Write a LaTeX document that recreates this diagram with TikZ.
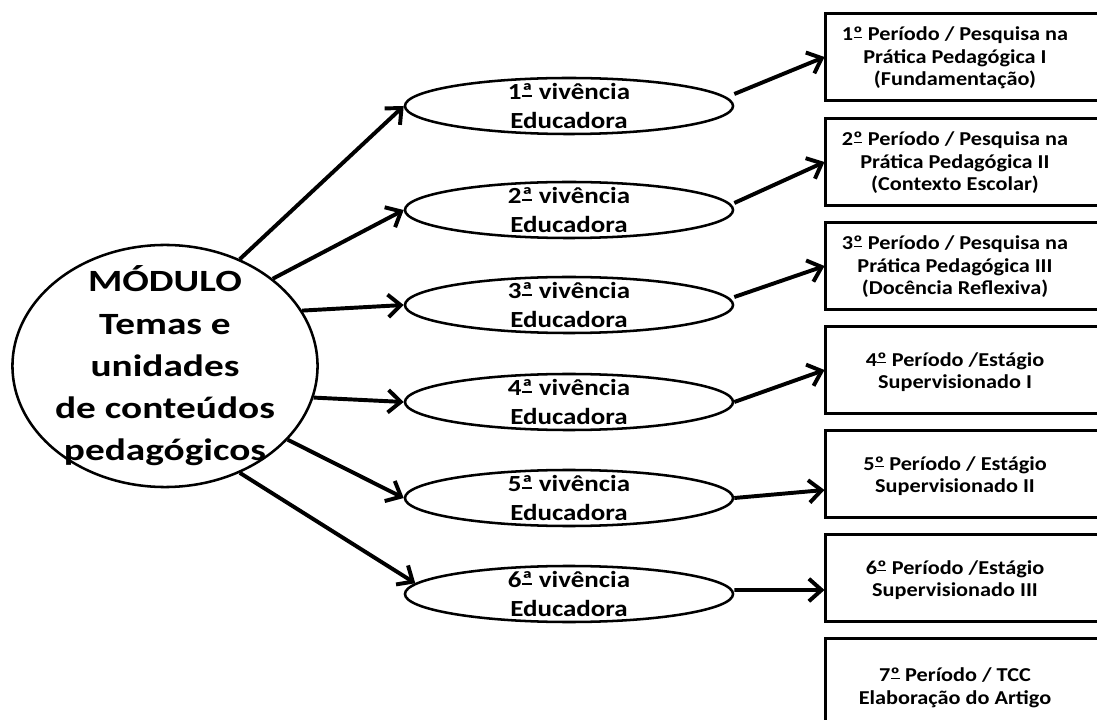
\documentclass[tikz,border=0pt]{standalone}
\usepackage{fontspec}
\setmainfont{Carlito}
\newfontfamily\modfont[FakeStretch=1.27]{Carlito}
\newfontfamily\vivfont[FakeStretch=1.17]{Carlito}
\newfontfamily\perfont[FakeStretch=1.13]{Carlito}
\newcommand{\ordu}[1]{\ooalign{#1\cr\hidewidth\rule[0.3ex]{0.45em}{0.07em}\hidewidth\cr}}
\usetikzlibrary{shapes.geometric,arrows.meta}

\begin{document}
\begin{tikzpicture}[x=0.025cm,y=-0.025cm,
    modulo/.style={ellipse,draw,line width=1.8pt,minimum width=7.625cm,minimum height=6.05cm,inner sep=0pt},
    modulotexto/.style={align=center,inner sep=0pt,font=\modfont\bfseries\fontsize{22}{30}\selectfont},
    vivencia/.style={ellipse,draw,line width=1.8pt,minimum width=8.2cm,minimum height=1.4cm,inner sep=0pt},
    vivenciatexto/.style={align=center,inner sep=0pt,font=\vivfont\bfseries\fontsize{16.4}{20}\selectfont},
    periodo/.style={rectangle,draw,line width=2.1pt,minimum width=7cm,minimum height=2.175cm},
    periodotexto/.style={align=center,inner sep=0pt,font=\perfont\bfseries\fontsize{14}{16}\selectfont},
    seta/.style={line width=2.8pt,-{Straight Barb[length=9pt,width=16pt]}}]
  \fill[white] (0,0) rectangle (1097,720);
  \clip (0,0) rectangle (1097,720);
  \useasboundingbox (0,0) rectangle (1097,720);

  \node[modulo] (mod) at (165,366) {};
  \node[modulotexto] (modtxt) at (mod.center) {MÓDULO\\Temas e\\unidades\\de conteúdos\\pedagógicos};

  \node[vivencia] (v1) at (569,106) {};
  \node[vivencia] (v2) at (569,210) {};
  \node[vivencia] (v3) at (569,305) {};
  \node[vivencia] (v4) at (569,402) {};
  \node[vivencia] (v5) at (569,498) {};
  \node[vivencia] (v6) at (569,594) {};
  \node[vivenciatexto] (v1txt) at (v1.center) {1\ordu{ª} vivência\\Educadora};
  \node[vivenciatexto] (v2txt) at (v2.center) {2\ordu{ª} vivência\\Educadora};
  \node[vivenciatexto] (v3txt) at (v3.center) {3\ordu{ª} vivência\\Educadora};
  \node[vivenciatexto] (v4txt) at (v4.center) {4\ordu{ª} vivência\\Educadora};
  \node[vivenciatexto] (v5txt) at (v5.center) {5\ordu{ª} vivência\\Educadora};
  \node[vivenciatexto] (v6txt) at (v6.center) {6\ordu{ª} vivência\\Educadora};

  \node[periodo] (p1) at (966,57) {};
  \node[periodo] (p2) at (966,162) {};
  \node[periodo] (p3) at (966,266) {};
  \node[periodo] (p4) at (966,370) {};
  \node[periodo] (p5) at (966,474) {};
  \node[periodo] (p6) at (966,578) {};
  \node[periodo] (p7) at (966,682) {};
  \node[periodotexto] (p1txt) at (955,58) {1\ordu{º} Período / Pesquisa na\\Prática Pedagógica I\\(Fundamentação)};
  \node[periodotexto] (p2txt) at (955,163) {2\ordu{º} Período / Pesquisa na\\Prática Pedagógica II\\(Contexto Escolar)};
  \node[periodotexto] (p3txt) at (955,267) {3\ordu{º} Período / Pesquisa na\\Prática Pedagógica III\\(Docência Reflexiva)};
  \node[periodotexto] (p4txt) at (955,372) {4\ordu{º} Período /Estágio\\Supervisionado I};
  \node[periodotexto] (p5txt) at (955,476) {5\ordu{º} Período / Estágio\\Supervisionado II};
  \node[periodotexto] (p6txt) at (955,580) {6\ordu{º} Período /Estágio\\Supervisionado III};
  \node[periodotexto] (p7txt) at (955,688) {7\ordu{º} Período / TCC\\Elaboração do Artigo};

  \draw[seta] (mod.55) -- (v1.west);
  \draw[seta] (mod.39) -- (v2.west);
  \draw[seta] (mod.22) -- (v3.west);
  \draw[seta] (mod.-12) -- (v4.west);
  \draw[seta] (mod.-31) -- (v5.west);
  \draw[seta] (mod.-55) -- (v6.176);

  \draw[seta] ([yshift=0.3cm]v1.east) -- (p1.west);
  \draw[seta] ([yshift=0.175cm]v2.east) -- (p2.west);
  \draw[seta] ([yshift=0.2cm]v3.east) -- (p3.west);
  \draw[seta] (v4.east) -- (p4.west);
  \draw[seta] (v5.east) -- ([yshift=-0.4cm]p5.west);
  \draw[seta] ([yshift=0.1cm]v6.east) -- ([yshift=-0.3cm]p6.west);
\end{tikzpicture}
\end{document}
